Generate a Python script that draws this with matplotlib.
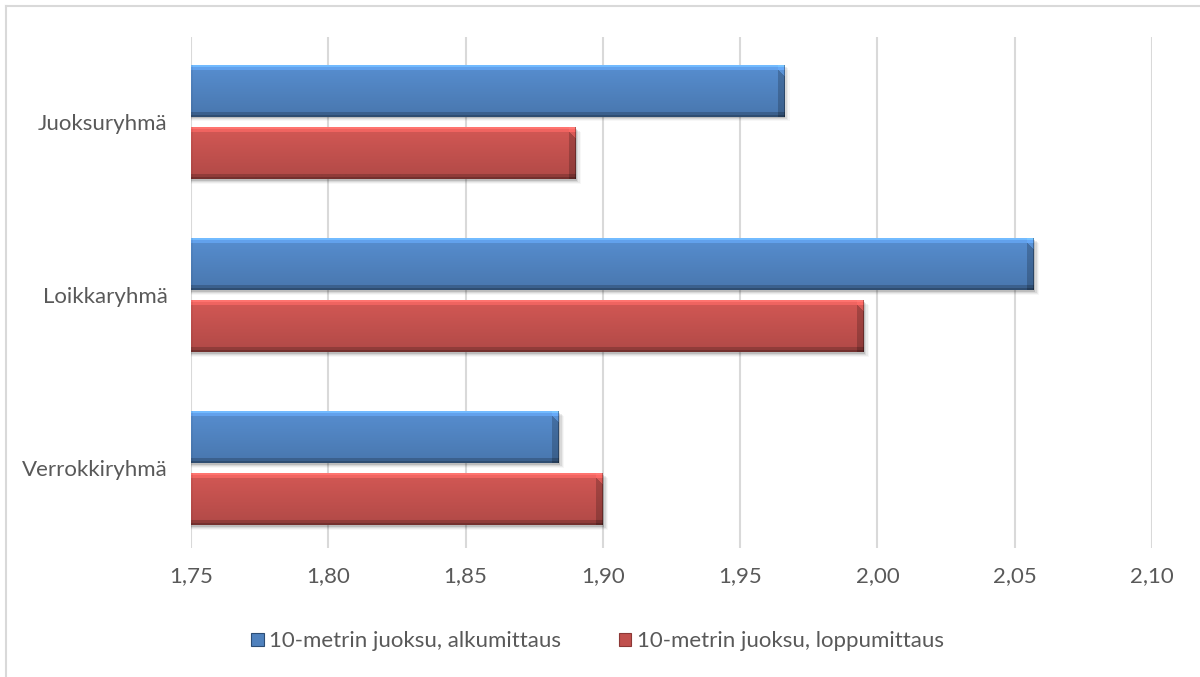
import numpy as np
import matplotlib.pyplot as plt
from matplotlib.patches import Patch, Rectangle
from matplotlib.lines import Line2D
from matplotlib.colors import to_rgb

groups = ['Juoksuryhmä', 'Loikkaryhmä', 'Verrokkiryhmä']
alku = [1.966, 2.057, 1.884]
loppu = [1.890, 1.995, 1.900]
series_names = ['10-metrin juoksu, alkumittaus', '10-metrin juoksu, loppumittaus']
xticks = [1.75, 1.80, 1.85, 1.90, 1.95, 2.00, 2.05, 2.10]

BLUE = '#4f81bd'
RED = '#c0504d'
TEXT = '#595959'
GRID = '#d9d9d9'

plt.rcParams['font.family'] = ['Lato', 'DejaVu Sans']

fig = plt.figure(figsize=(12, 6.77), dpi=100)
ax = fig.add_axes([0.1592, 0.1906, 0.8008, 0.7548])

x0 = 1.75
ax.set_xlim(1.75, 2.10)
ax.set_ylim(2.46, -0.49)

h = 0.30
off = 0.18
y = np.arange(len(groups))


def bevel_bar(ax, yc, value, color):
    bars = ax.barh([yc], [value - x0], left=x0, height=h, color=color,
                   edgecolor='none', zorder=3)
    rect = bars[0]
    # soft drop shadow
    for k, a in enumerate([0.12, 0.08, 0.05, 0.03]):
        sh = Rectangle((x0, yc - h / 2 + 0.010 + k * 0.006), value - x0 + 0.0005 * (k + 1), h,
                       facecolor='black', alpha=a, edgecolor='none', zorder=2)
        ax.add_patch(sh)
    # shading image clipped to the bar
    base = np.array(to_rgb(color))
    ny = 52
    wpx = int(round((value - x0) / 0.35 * 961))
    t = np.linspace(0, 1, ny)
    prof = 1.10 - 0.18 * t
    prof[:2] = 1.45
    prof[2:5] = 1.25
    prof[-5:] = 0.75
    prof[-2:] = 0.6
    img = np.clip(base[None, None, :] * prof[:, None, None], 0, 1)
    img = np.repeat(img, wpx, axis=1)
    # bevelled right end with a diagonal corner at the top
    bev = 7
    for j in range(bev):
        col = wpx - bev + j
        img[j + 5:, col, :] *= 0.80
        img[:j + 5, col, :] = np.clip(img[:j + 5, col, :] * 1.05, 0, 1)
    img[:, -1, :] *= 0.7
    img[:, :2, :] *= 0.95
    im = ax.imshow(img, extent=(x0, value, yc + h / 2, yc - h / 2),
                   aspect='auto', zorder=4, interpolation='bilinear')
    im.set_clip_path(rect)
    return rect


for i in range(len(groups)):
    bevel_bar(ax, y[i] - off, alku[i], BLUE)
    bevel_bar(ax, y[i] + off, loppu[i], RED)

ax.set_xlim(1.75, 2.10)
ax.set_ylim(2.46, -0.49)

ax.set_xticks(xticks)
ax.set_xticklabels([f'{v:.2f}'.replace('.', ',') for v in xticks])
ax.set_yticks(y)
ax.set_yticklabels(groups)
ax.tick_params(axis='both', length=0, labelsize=16, labelcolor=TEXT)
ax.tick_params(axis='x', pad=13)
ax.tick_params(axis='y', pad=17)
ax.grid(axis='x', color=GRID, linewidth=1.5, zorder=0)
ax.set_axisbelow(True)
for s in ax.spines.values():
    s.set_visible(False)

handles = [Patch(facecolor=BLUE, edgecolor='#2c4d75', linewidth=0.8),
           Patch(facecolor=RED, edgecolor='#8c3836', linewidth=0.8)]
fig.legend(handles, series_names, loc='center', bbox_to_anchor=(0.498, 0.053),
           ncol=2, frameon=False, fontsize=16, labelcolor=TEXT,
           handlelength=0.55, handleheight=0.55, handletextpad=0.25,
           columnspacing=2.6)

# outer chart-area border
fig.add_artist(Line2D([0.005, 1.0], [0.991, 0.991], color=GRID, linewidth=1.5,
                      transform=fig.transFigure))
fig.add_artist(Line2D([0.005, 0.005], [0.0, 0.991], color=GRID, linewidth=1.5,
                      transform=fig.transFigure))

fig.savefig('out.png', dpi=100)
